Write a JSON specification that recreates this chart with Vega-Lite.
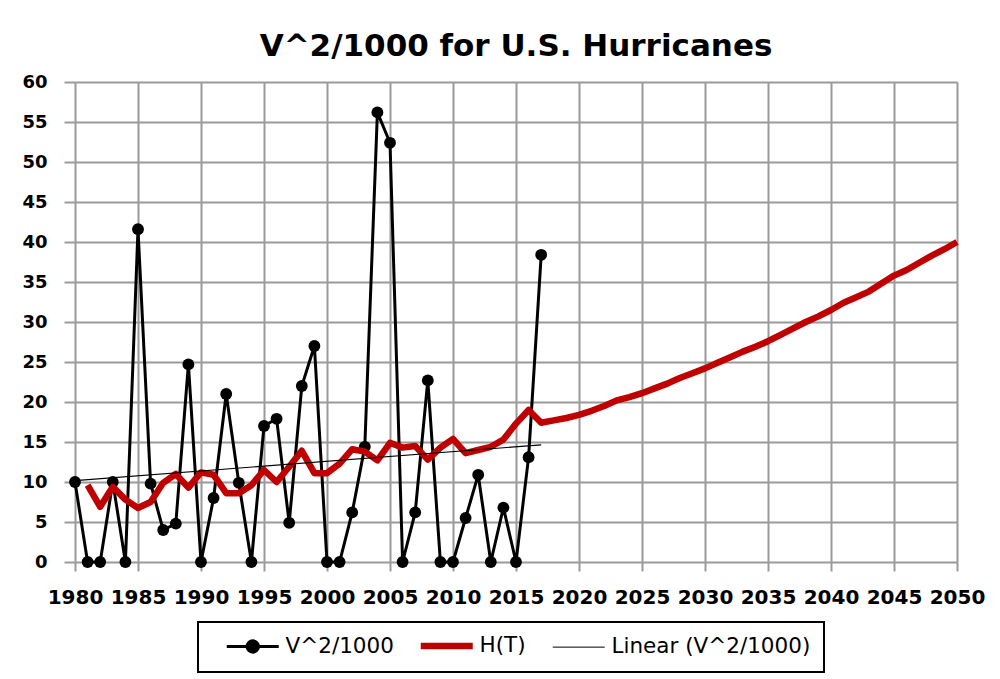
{
  "$schema": "https://vega.github.io/schema/vega-lite/v6.json",
  "width": 882,
  "height": 480,
  "autosize": {"type": "none"},
  "padding": {"left": 75, "top": 82, "right": 43, "bottom": 117},
  "background": "white",
  "title": {
    "text": "V^2/1000 for U.S. Hurricanes",
    "font": "DejaVu Sans",
    "fontSize": 31,
    "fontWeight": "bold",
    "color": "black",
    "anchor": "middle",
    "offset": 10
  },
  "config": {
    "view": {"stroke": null},
    "axis": {
      "labelFont": "DejaVu Sans",
      "labelFontWeight": "bold",
      "labelColor": "black",
      "gridColor": "#9a9a9a",
      "gridWidth": 2,
      "gridOpacity": 1,
      "tickColor": "#9a9a9a",
      "tickWidth": 2,
      "domain": false
    }
  },
  "data": {
    "values": [
      {"year": 1980, "value": 10.0, "series": "V^2/1000"},
      {"year": 1981, "value": 0, "series": "V^2/1000"},
      {"year": 1982, "value": 0, "series": "V^2/1000"},
      {"year": 1983, "value": 10.0, "series": "V^2/1000"},
      {"year": 1984, "value": 0, "series": "V^2/1000"},
      {"year": 1985, "value": 41.6, "series": "V^2/1000"},
      {"year": 1986, "value": 9.8, "series": "V^2/1000"},
      {"year": 1987, "value": 4.0, "series": "V^2/1000"},
      {"year": 1988, "value": 4.8, "series": "V^2/1000"},
      {"year": 1989, "value": 24.7, "series": "V^2/1000"},
      {"year": 1990, "value": 0, "series": "V^2/1000"},
      {"year": 1991, "value": 8.0, "series": "V^2/1000"},
      {"year": 1992, "value": 21.0, "series": "V^2/1000"},
      {"year": 1993, "value": 9.9, "series": "V^2/1000"},
      {"year": 1994, "value": 0, "series": "V^2/1000"},
      {"year": 1995, "value": 17.0, "series": "V^2/1000"},
      {"year": 1996, "value": 17.9, "series": "V^2/1000"},
      {"year": 1997, "value": 4.9, "series": "V^2/1000"},
      {"year": 1998, "value": 22.0, "series": "V^2/1000"},
      {"year": 1999, "value": 27.0, "series": "V^2/1000"},
      {"year": 2000, "value": 0, "series": "V^2/1000"},
      {"year": 2001, "value": 0, "series": "V^2/1000"},
      {"year": 2002, "value": 6.2, "series": "V^2/1000"},
      {"year": 2003, "value": 14.4, "series": "V^2/1000"},
      {"year": 2004, "value": 56.2, "series": "V^2/1000"},
      {"year": 2005, "value": 52.4, "series": "V^2/1000"},
      {"year": 2006, "value": 0, "series": "V^2/1000"},
      {"year": 2007, "value": 6.2, "series": "V^2/1000"},
      {"year": 2008, "value": 22.7, "series": "V^2/1000"},
      {"year": 2009, "value": 0, "series": "V^2/1000"},
      {"year": 2010, "value": 0, "series": "V^2/1000"},
      {"year": 2011, "value": 5.5, "series": "V^2/1000"},
      {"year": 2012, "value": 10.9, "series": "V^2/1000"},
      {"year": 2013, "value": 0, "series": "V^2/1000"},
      {"year": 2014, "value": 6.8, "series": "V^2/1000"},
      {"year": 2015, "value": 0, "series": "V^2/1000"},
      {"year": 2016, "value": 13.1, "series": "V^2/1000"},
      {"year": 2017, "value": 38.4, "series": "V^2/1000"},
      {"year": 1981, "value": 9.6, "series": "H(T)"},
      {"year": 1982, "value": 6.9, "series": "H(T)"},
      {"year": 1983, "value": 9.4, "series": "H(T)"},
      {"year": 1984, "value": 7.8, "series": "H(T)"},
      {"year": 1985, "value": 6.75, "series": "H(T)"},
      {"year": 1986, "value": 7.5, "series": "H(T)"},
      {"year": 1987, "value": 9.9, "series": "H(T)"},
      {"year": 1988, "value": 11.0, "series": "H(T)"},
      {"year": 1989, "value": 9.3, "series": "H(T)"},
      {"year": 1990, "value": 11.2, "series": "H(T)"},
      {"year": 1991, "value": 10.9, "series": "H(T)"},
      {"year": 1992, "value": 8.6, "series": "H(T)"},
      {"year": 1993, "value": 8.6, "series": "H(T)"},
      {"year": 1994, "value": 9.6, "series": "H(T)"},
      {"year": 1995, "value": 11.5, "series": "H(T)"},
      {"year": 1996, "value": 10.0, "series": "H(T)"},
      {"year": 1997, "value": 11.9, "series": "H(T)"},
      {"year": 1998, "value": 13.9, "series": "H(T)"},
      {"year": 1999, "value": 11.1, "series": "H(T)"},
      {"year": 2000, "value": 11.1, "series": "H(T)"},
      {"year": 2001, "value": 12.3, "series": "H(T)"},
      {"year": 2002, "value": 14.1, "series": "H(T)"},
      {"year": 2003, "value": 13.8, "series": "H(T)"},
      {"year": 2004, "value": 12.7, "series": "H(T)"},
      {"year": 2005, "value": 14.9, "series": "H(T)"},
      {"year": 2006, "value": 14.3, "series": "H(T)"},
      {"year": 2007, "value": 14.5, "series": "H(T)"},
      {"year": 2008, "value": 12.8, "series": "H(T)"},
      {"year": 2009, "value": 14.3, "series": "H(T)"},
      {"year": 2010, "value": 15.4, "series": "H(T)"},
      {"year": 2011, "value": 13.6, "series": "H(T)"},
      {"year": 2012, "value": 14.0, "series": "H(T)"},
      {"year": 2013, "value": 14.4, "series": "H(T)"},
      {"year": 2014, "value": 15.3, "series": "H(T)"},
      {"year": 2015, "value": 17.3, "series": "H(T)"},
      {"year": 2016, "value": 19.0, "series": "H(T)"},
      {"year": 2017, "value": 17.4, "series": "H(T)"},
      {"year": 2018, "value": 17.7, "series": "H(T)"},
      {"year": 2019, "value": 18.0, "series": "H(T)"},
      {"year": 2020, "value": 18.4, "series": "H(T)"},
      {"year": 2021, "value": 18.9, "series": "H(T)"},
      {"year": 2022, "value": 19.5, "series": "H(T)"},
      {"year": 2023, "value": 20.2, "series": "H(T)"},
      {"year": 2024, "value": 20.6, "series": "H(T)"},
      {"year": 2025, "value": 21.1, "series": "H(T)"},
      {"year": 2026, "value": 21.7, "series": "H(T)"},
      {"year": 2027, "value": 22.3, "series": "H(T)"},
      {"year": 2028, "value": 23.0, "series": "H(T)"},
      {"year": 2029, "value": 23.6, "series": "H(T)"},
      {"year": 2030, "value": 24.2, "series": "H(T)"},
      {"year": 2031, "value": 24.9, "series": "H(T)"},
      {"year": 2032, "value": 25.6, "series": "H(T)"},
      {"year": 2033, "value": 26.3, "series": "H(T)"},
      {"year": 2034, "value": 26.9, "series": "H(T)"},
      {"year": 2035, "value": 27.6, "series": "H(T)"},
      {"year": 2036, "value": 28.4, "series": "H(T)"},
      {"year": 2037, "value": 29.2, "series": "H(T)"},
      {"year": 2038, "value": 30.0, "series": "H(T)"},
      {"year": 2039, "value": 30.7, "series": "H(T)"},
      {"year": 2040, "value": 31.5, "series": "H(T)"},
      {"year": 2041, "value": 32.4, "series": "H(T)"},
      {"year": 2042, "value": 33.1, "series": "H(T)"},
      {"year": 2043, "value": 33.8, "series": "H(T)"},
      {"year": 2044, "value": 34.8, "series": "H(T)"},
      {"year": 2045, "value": 35.8, "series": "H(T)"},
      {"year": 2046, "value": 36.5, "series": "H(T)"},
      {"year": 2047, "value": 37.4, "series": "H(T)"},
      {"year": 2048, "value": 38.3, "series": "H(T)"},
      {"year": 2049, "value": 39.1, "series": "H(T)"},
      {"year": 2050, "value": 40.0, "series": "H(T)"},
      {"year": 1980, "value": 10.17, "series": "Linear (V^2/1000)"},
      {"year": 2017, "value": 14.64, "series": "Linear (V^2/1000)"}
    ]
  },
  "encoding": {
    "x": {
      "field": "year",
      "type": "quantitative",
      "scale": {"domain": [1980, 2050], "nice": false, "zero": false},
      "axis": {
        "title": null,
        "values": [1980, 1985, 1990, 1995, 2000, 2005, 2010, 2015, 2020, 2025, 2030, 2035, 2040, 2045, 2050],
        "format": "d",
        "labelFontSize": 20,
        "tickSize": 9,
        "labelPadding": 16,
        "labelFlush": false,
        "labelOverlap": false
      }
    },
    "y": {
      "field": "value",
      "type": "quantitative",
      "scale": {"domain": [0, 60], "nice": false},
      "axis": {
        "title": null,
        "values": [0, 5, 10, 15, 20, 25, 30, 35, 40, 45, 50, 55, 60],
        "labelFontSize": 18,
        "tickSize": 11,
        "labelPadding": 17,
        "labelFlush": false,
        "labelOverlap": false
      }
    },
    "color": {
      "field": "series",
      "type": "nominal",
      "scale": {
        "domain": ["V^2/1000", "H(T)", "Linear (V^2/1000)"],
        "range": ["black", "#c00000", "black"]
      },
      "legend": {
        "title": null,
        "orient": "none",
        "direction": "horizontal",
        "legendX": 123,
        "legendY": 540,
        "padding": 13,
        "strokeColor": "black",
        "fillColor": "white",
        "labelFont": "DejaVu Sans",
        "labelFontSize": 21.5,
        "labelColor": "black",
        "labelLimit": 400,
        "labelOffset": 22,
        "symbolOffset": 31,
        "columnPadding": 11,
        "symbolSize": 2704,
        "symbolType": "stroke",
        "encode": {
          "legend": {"update": {"strokeWidth": {"value": 2}}},
          "symbols": {
            "update": {
              "shape": {"signal": "datum.value === 'V^2/1000' ? 'M-1,0L1,0M0.22,0A0.22,0.22,0,1,1,-0.22,0A0.22,0.22,0,1,1,0.22,0Z' : 'stroke'"},
              "strokeWidth": {"signal": "datum.value === 'H(T)' ? 6.5 : (datum.value === 'V^2/1000' ? 3 : 1)"},
              "fill": {"signal": "datum.value === 'V^2/1000' ? 'black' : 'transparent'"},
              "stroke": {"signal": "datum.value === 'H(T)' ? '#c00000' : 'black'"}
            }
          }
        }
      }
    }
  },
  "layer": [
    {
      "transform": [{"filter": "datum.series === 'V^2/1000'"}],
      "mark": {"type": "line", "strokeWidth": 3, "point": {"filled": true, "size": 140, "opacity": 1}}
    },
    {
      "transform": [{"filter": "datum.series === 'H(T)'"}],
      "mark": {"type": "line", "strokeWidth": 6.5, "strokeJoin": "round"}
    },
    {
      "transform": [{"filter": "datum.series === 'Linear (V^2/1000)'"}],
      "mark": {"type": "line", "strokeWidth": 1.2}
    },
    {
      "data": {"values": [{"label": "y = 0.1208x - 229.01"}]},
      "mark": {"type": "text", "font": "DejaVu Sans", "fontSize": 16.5, "align": "left", "baseline": "middle"},
      "encoding": {
        "x": {"datum": 1986.0},
        "y": {"datum": 47.0},
        "text": {"field": "label", "type": "nominal"},
        "color": {"value": "black"}
      }
    }
  ]
}
